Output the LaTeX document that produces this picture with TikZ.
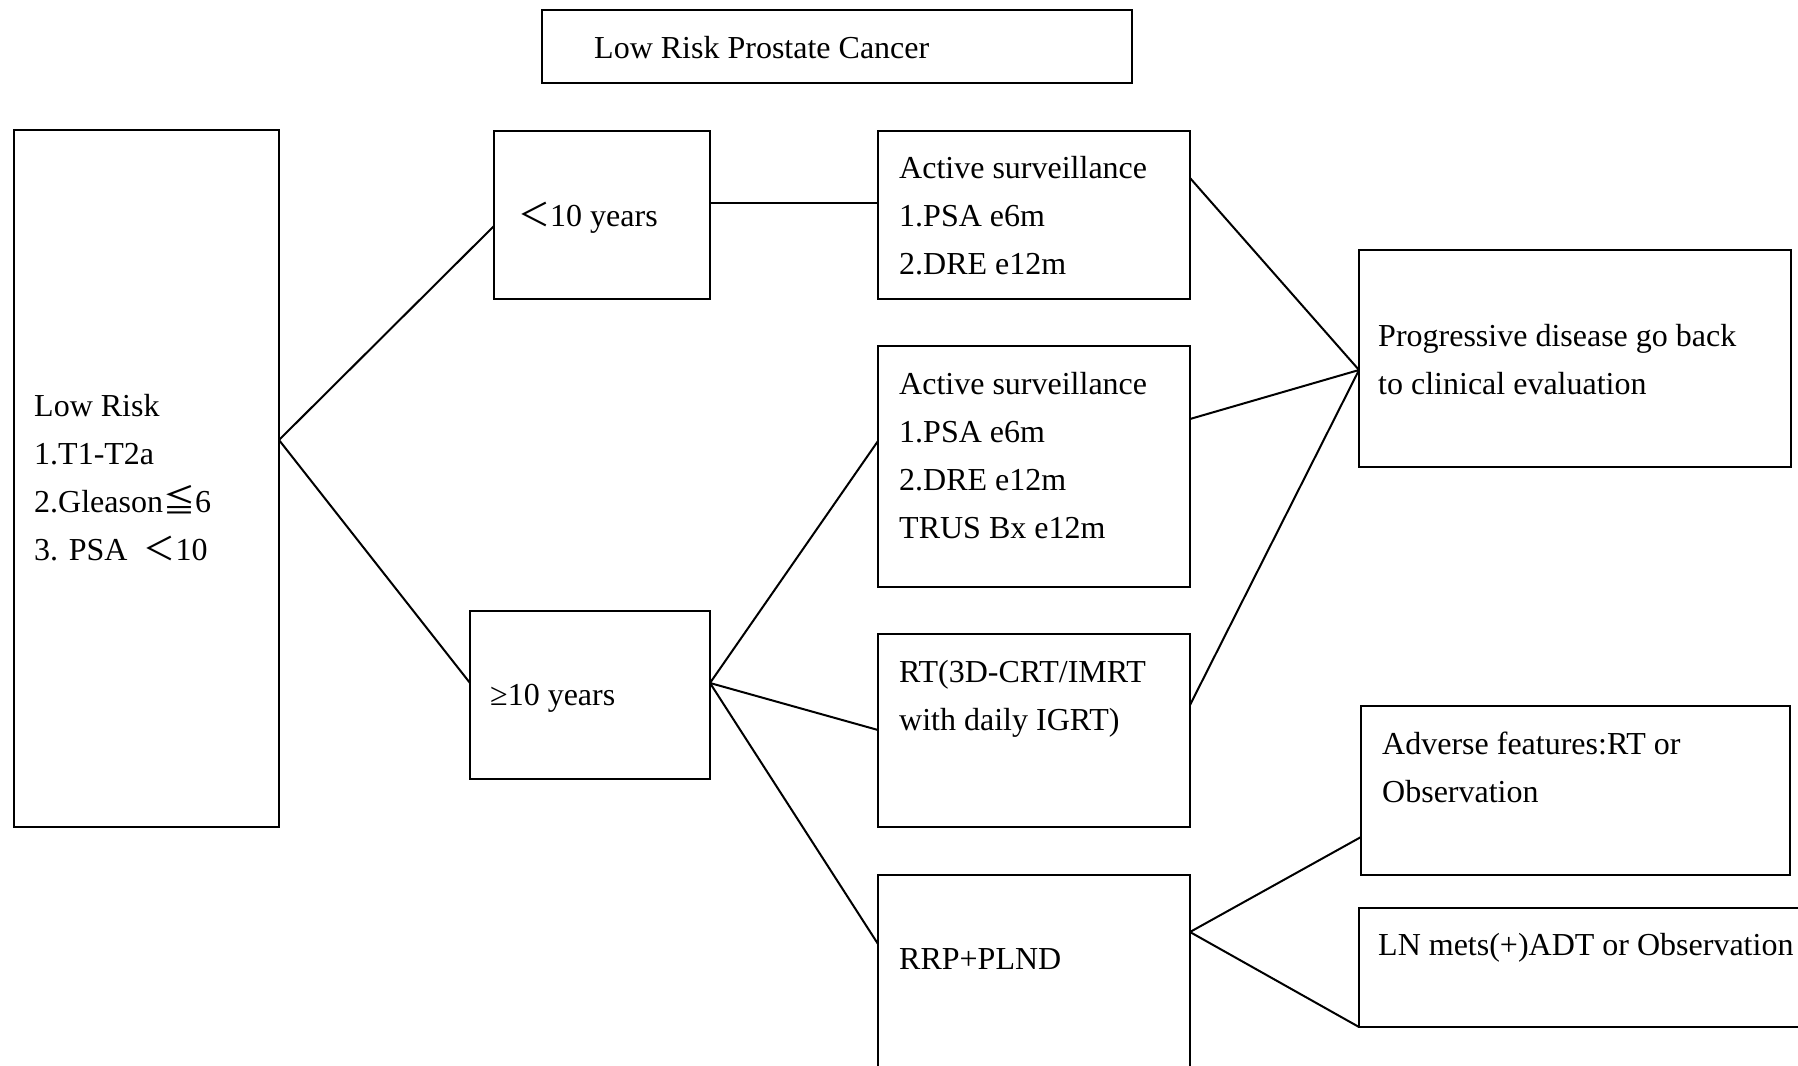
\documentclass[tikz,border=0pt]{standalone}
\usepackage{fontspec}
\setmainfont{Liberation Serif}
\newfontfamily\cjk{Noto Sans CJK TC}
\begin{document}
\begin{tikzpicture}[x=1pt,y=-1pt,
  box/.style={draw, line width=2pt, anchor=north west, inner sep=0pt, outer sep=0pt},
  txt/.style={anchor=north west, inner sep=0pt, align=left, font=\fontsize{32}{48}\selectfont},
  conn/.style={line width=2pt}]
\useasboundingbox (0,0) rectangle (1798,1065);
% boxes
\node[box, minimum width=590pt, minimum height=73pt]  (title) at (542,10) {};
\node[box, minimum width=265pt, minimum height=697pt] (lr)    at (14,130) {};
\node[box, minimum width=216pt, minimum height=168pt] (lt10)  at (494,131) {};
\node[box, minimum width=240pt, minimum height=168pt] (ge10)  at (470,611) {};
\node[box, minimum width=312pt, minimum height=168pt] (as1)   at (878,131) {};
\node[box, minimum width=312pt, minimum height=241pt] (as2)   at (878,346) {};
\node[box, minimum width=312pt, minimum height=193pt] (rt)    at (878,634) {};
\node[box, minimum width=312pt, minimum height=220pt] (rrp)   at (878,875) {};
\node[box, minimum width=432pt, minimum height=217pt] (prog)  at (1359,250) {};
\node[box, minimum width=429pt, minimum height=169pt] (adv)   at (1361,706) {};
\node[box, minimum width=460pt, minimum height=119pt] (ln)    at (1359,908) {};
% texts
\node[txt] (ttitle) at (594,36) {Low Risk Prostate Cancer};
\node[txt] (tlr) at (34,394) {Low Risk\\1.T1-T2a\\2.Gleason{\cjk ≦}6\\3. PSA\ \ {\cjk ＜}10};
\node[txt] (tlt10) at (518,202) {{\cjk ＜}10 years};
\node[txt] (tge10) at (490,684) {≥10 years};
\node[txt] (tas1) at (899,156) {Active surveillance\\1.PSA e6m\\2.DRE e12m};
\node[txt] (tas2) at (899,372) {Active surveillance\\1.PSA e6m\\2.DRE e12m\\TRUS Bx e12m};
\node[txt] (trt) at (899,660) {RT(3D-CRT/IMRT\\with daily IGRT)};
\node[txt] (trrp) at (899,948) {RRP+PLND};
\node[txt] (tprog) at (1378,324) {Progressive disease go back\\to clinical evaluation};
\node[txt] (tadv) at (1382,732) {Adverse features:RT or\\Observation};
\node[txt] (tln) at (1378,933) {LN mets(+)ADT or Observation};
% connectors
\draw[conn] (lr.east |- 0,440) -- (lt10.west |- 0,226);
\draw[conn] (lr.east |- 0,440) -- (ge10.west |- 0,683);
\draw[conn] (lt10.east |- 0,203) -- (as1.west |- 0,203);
\draw[conn] (ge10.east |- 0,683) -- (as2.west |- 0,441);
\draw[conn] (ge10.east |- 0,683) -- (rt.west |- 0,730);
\draw[conn] (ge10.east |- 0,683) -- (rrp.west |- 0,944);
\draw[conn] (as1.east |- 0,178) -- (prog.west |- 0,370);
\draw[conn] (as2.east |- 0,419) -- (prog.west |- 0,370);
\draw[conn] (rt.east |- 0,705) -- (prog.west |- 0,370);
\draw[conn] (rrp.east |- 0,932) -- (adv.west |- 0,837);
\draw[conn] (rrp.east |- 0,932) -- (ln.south west);
\end{tikzpicture}
\end{document}
